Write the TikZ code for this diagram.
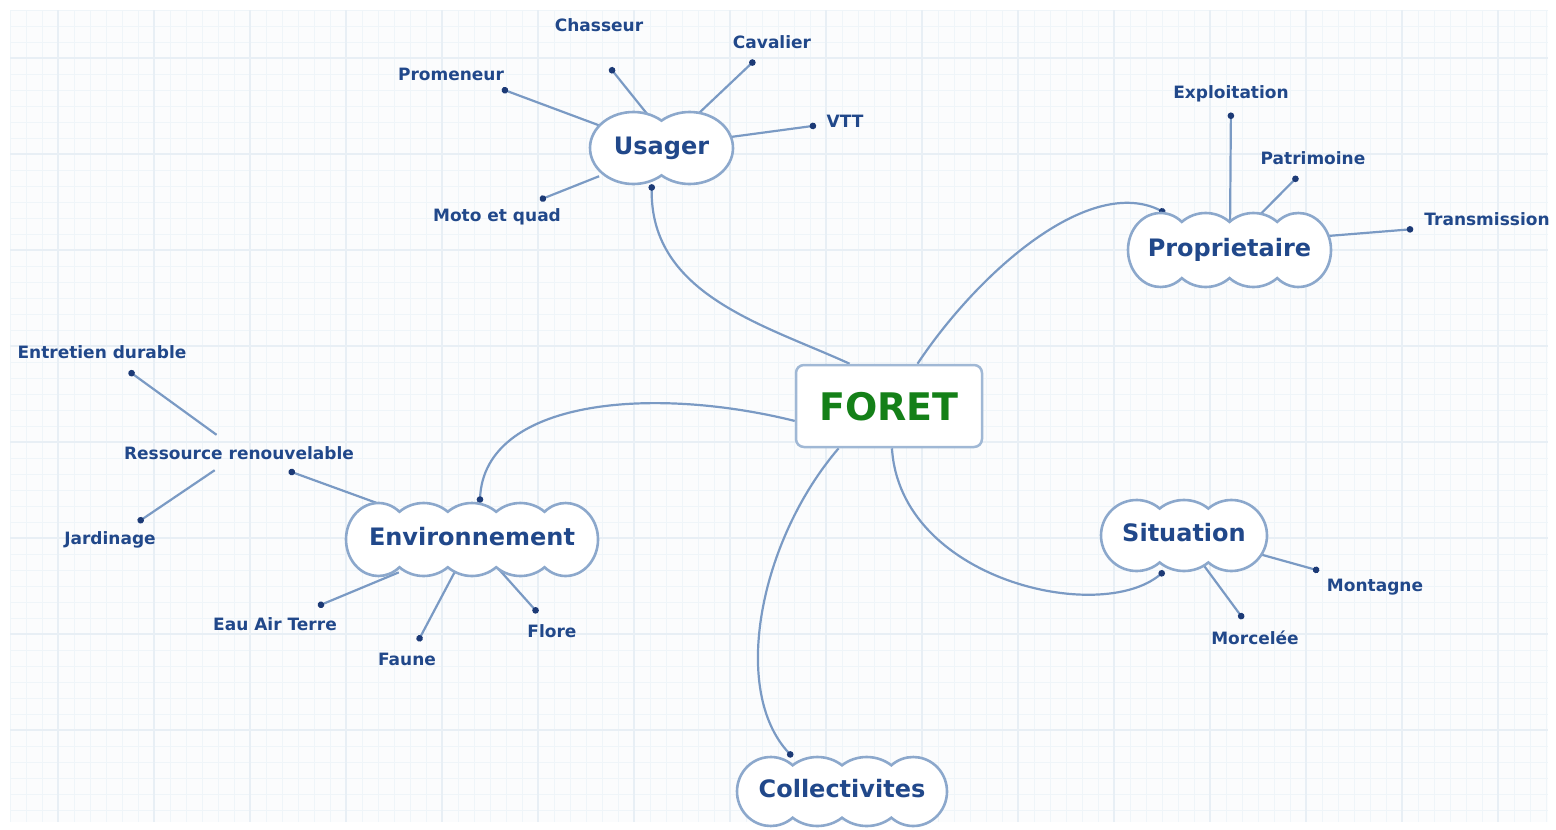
\documentclass[tikz,border=0pt]{standalone}
\usepackage{fontspec}
\setmainfont{DejaVu Sans}
\usetikzlibrary{arrows.meta,calc}
\definecolor{txtblue}{RGB}{33,72,138}
\definecolor{lineblue}{RGB}{122,154,196}
\definecolor{cloudblue}{RGB}{140,168,204}
\definecolor{dotblue}{RGB}{28,58,118}
\definecolor{foretgreen}{RGB}{20,128,24}
\definecolor{boxblue}{RGB}{160,184,213}
\definecolor{gridminor}{RGB}{239,245,249}
\definecolor{gridmajor}{RGB}{232,239,245}
\definecolor{paper}{RGB}{251,252,253}
\pgfdeclarelayer{bg}\pgfdeclarelayer{links}\pgfdeclarelayer{clouds}
\pgfsetlayers{bg,links,clouds,main}

% #1 left x, #2 right x, #3 centre y, #4 half height, #5 number of bumps
\newcommand\cloudshape[5]{%
  \pgfmathsetmacro\cls{0.65}%
  \pgfmathsetmacro\clt{acos(\cls)}%
  \pgfmathsetmacro\clA{180+\clt}%
  \pgfmathsetmacro\clB{360-\clt}%
  \pgfmathsetmacro\clC{540-\clt}%
  \pgfmathsetmacro\clD{180-\clt}%
  \ifnum#5>2
    \pgfmathsetmacro\clE{1.06*(#2-#1)/#5}%
    \pgfmathsetmacro\clM{((#2-#1)-2*\clE)/(#5-2)}%
  \else
    \pgfmathsetmacro\clE{(#2-#1)/2}%
    \pgfmathsetmacro\clM{1}%
  \fi
  \pgfmathsetmacro\cae{\clE/(1+\cls)}%
  \pgfmathsetmacro\cam{\clM/(2*\cls)}%
  \pgfmathsetmacro\clsy{#4*sin(\clt)}%
  \pgfmathtruncatemacro\clmid{#5-2}%
  \ifnum\clmid>0
    \def\clbot{foreach \ci in {1,...,\clmid}{arc[start angle=\clA, end angle=\clB, x radius=\cam pt, y radius=#4pt]}}%
    \def\cltop{foreach \ci in {1,...,\clmid}{arc[start angle=\clt, end angle=\clD, x radius=\cam pt, y radius=#4pt]}}%
  \else
    \def\clbot{}\def\cltop{}%
  \fi
  \draw[cloudline] ({#1+\clE},{#3-\clsy})
    arc[start angle=\clt, end angle=\clB, x radius=\cae pt, y radius=#4pt]
    \clbot
    arc[start angle=\clA, end angle=\clC, x radius=\cae pt, y radius=#4pt]
    \cltop -- cycle;%
}

\begin{document}
\begin{tikzpicture}[x=1pt,y=-1pt,
  leaf/.style={font=\bfseries\fontsize{17}{20}\selectfont, text=txtblue, inner sep=0pt, text height=13pt, text depth=4pt},
  topic/.style={font=\bfseries\fontsize{24}{28}\selectfont, text=txtblue, inner sep=0pt, text height=17.5pt, text depth=5pt},
  cloudline/.style={draw=cloudblue, line width=2.6pt, fill=white},
  link/.style={draw=lineblue, line width=2.2pt, -{Circle[length=6.5pt, width=6.5pt, color=dotblue]}},
  fromcloud/.style={link, shorten <=-10pt},
]
\useasboundingbox (0,0) rectangle (1556,830);

\begin{pgfonlayer}{bg}
  \fill[white] (0,0) rectangle (1556,830);
  \fill[paper] (10,10) rectangle (1548,822);
  \foreach \gx in {10,26,...,1546} \draw[gridminor, line width=1pt] (\gx,10) -- (\gx,822);
  \foreach \gy in {10,26,...,822} \draw[gridminor, line width=1pt] (10,\gy) -- (1548,\gy);
  \foreach \gx in {58,154,...,1546} \draw[gridmajor, line width=1.2pt] (\gx,10) -- (\gx,822);
  \foreach \gy in {58,154,...,822} \draw[gridmajor, line width=1.2pt] (10,\gy) -- (1548,\gy);
\end{pgfonlayer}

% central node
\node[draw=boxblue, line width=2.5pt, fill=white, rounded corners=8pt,
      minimum width=186pt, minimum height=82pt, inner sep=0pt,
      font=\bfseries\fontsize{38}{44}\selectfont, text=foretgreen,
      text height=28pt, text depth=0pt] (foret) at (889,406) {FORET};

% cloud topics
\node[topic, minimum width=143pt, minimum height=72pt] (usager) at (661.5,148) {Usager};
\node[topic, minimum width=203pt, minimum height=74pt] (proprietaire) at (1229.5,250) {Proprietaire};
\node[topic, minimum width=252pt, minimum height=73pt] (environnement) at (472,539.5) {Environnement};
\node[topic, minimum width=166pt, minimum height=71pt] (situation) at (1184,535.5) {Situation};
\node[topic, minimum width=210pt, minimum height=69pt] (collectivites) at (842,791.5) {Collectivites};

% leaves
\node[leaf] (promeneur) at (451,75.5) {Promeneur};
\node[leaf] (chasseur) at (599,26.5) {Chasseur};
\node[leaf] (cavalier) at (772,43.5) {Cavalier};
\node[leaf] (vtt) at (845,122.5) {VTT};
\node[leaf] (moto) at (497,216.5) {Moto et quad};
\node[leaf] (exploitation) at (1231,93.5) {Exploitation};
\node[leaf] (patrimoine) at (1313,159.5) {Patrimoine};
\node[leaf] (transmission) at (1487,220.5) {Transmission};
\node[leaf] (entretien) at (102,353.5) {Entretien durable};
\node[leaf] (ressource) at (239,454.5) {Ressource renouvelable};
\node[leaf] (jardinage) at (110,539.5) {Jardinage};
\node[leaf] (eau) at (275,625.5) {Eau Air Terre};
\node[leaf] (faune) at (407,660.5) {Faune};
\node[leaf] (flore) at (552,632.5) {Flore};
\node[leaf] (montagne) at (1375,586.5) {Montagne};
\node[leaf] (morcelee) at (1255,639.5) {Morcelée};

\begin{pgfonlayer}{clouds}
  \cloudshape{590}{733}{148}{36}{2}
  \cloudshape{1128}{1331}{250}{37}{4}
  \cloudshape{346}{598}{539.5}{36.5}{5}
  \cloudshape{1101}{1267}{535.5}{35.5}{3}
  \cloudshape{737}{947}{791.5}{34.5}{4}
\end{pgfonlayer}

\begin{pgfonlayer}{links}
  % main branches
  \draw[link] (foret.133) .. controls (765,325) and (650,295) .. (usager.255);
  \draw[link] (foret.56) .. controls (980,270) and (1090,175) .. (proprietaire.150);
  \draw[link] (foret.189) .. controls (650,385) and (485,400) .. (environnement.78);
  \draw[link] (foret.220) .. controls (760,540) and (730,690) .. (collectivites.145);
  \draw[link] (foret.274) .. controls (900,580) and (1100,625) .. (situation.241);
  % Usager
  \draw[fromcloud, shorten >=14pt] (usager.160) -- (promeneur.-13);
  \draw[fromcloud, shorten >=41.7pt] (usager.114) -- (chasseur.210);
  \draw[fromcloud, shorten >=11.8pt] (usager.43) -- (cavalier.225);
  \draw[fromcloud, shorten >=10.4pt] (usager.9) -- (vtt.185);
  \draw[fromcloud, shorten >=21.7pt] (usager.204) -- (moto.21);
  % Proprietaire
  \draw[fromcloud, shorten >=10.3pt] (proprietaire.89) -- (exploitation.south);
  \draw[fromcloud, shorten >=11.7pt] (proprietaire.49) -- (patrimoine.231);
  \draw[fromcloud, shorten >=11pt] (proprietaire.8) -- (transmission.187);
  % Environnement
  \draw[fromcloud, shorten >=22.6pt] (environnement.159) -- (ressource.-17);
  \draw[fromcloud, shorten >=28pt] (environnement.204) -- (eau.27);
  \draw[fromcloud, shorten >=12pt] (environnement.242) -- (faune.58);
  \draw[fromcloud, shorten >=14.8pt] (environnement.312) -- (flore.117);
  % Ressource renouvelable
  \draw[link, shorten <=18.7pt, shorten >=15.4pt] (ressource.130) -- (entretien.-31);
  \draw[link, shorten <=12.5pt, shorten >=15.6pt] (ressource.212) -- (jardinage.30);
  % Situation
  \draw[fromcloud, shorten >=26.4pt] (situation.-14) -- (montagne.164);
  \draw[fromcloud, shorten >=15pt] (situation.-56) -- (morcelee.109);
\end{pgfonlayer}
\end{tikzpicture}
\end{document}
